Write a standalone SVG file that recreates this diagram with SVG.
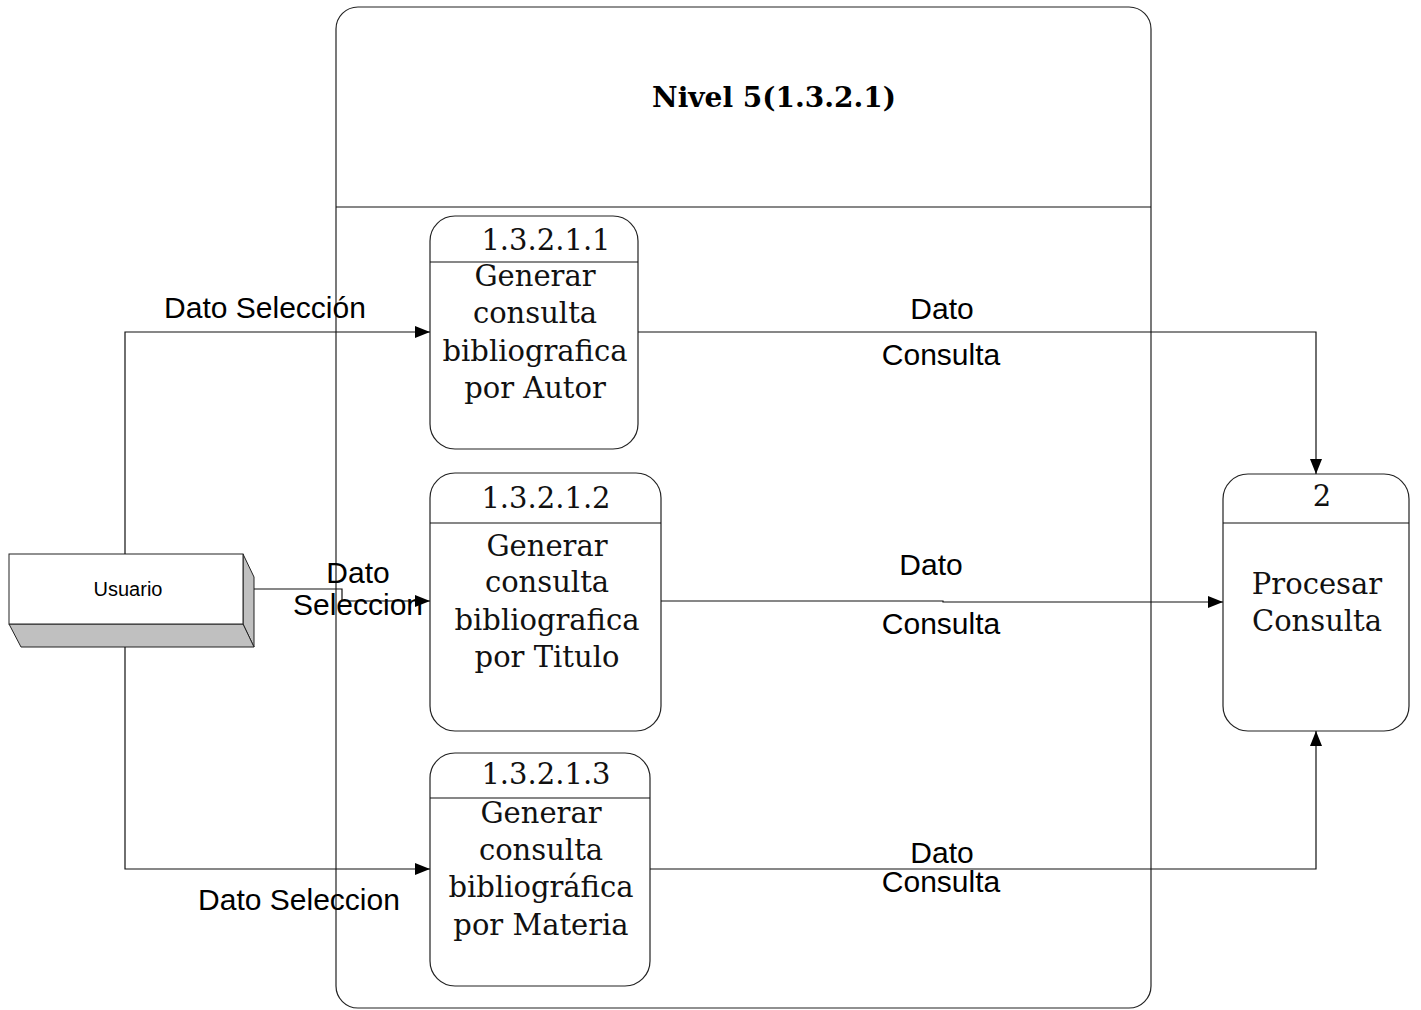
<svg xmlns="http://www.w3.org/2000/svg" width="1421" height="1010" viewBox="0 0 1421 1010">
<defs>
<style>
.box{fill:#fff;stroke:#222;stroke-width:1.2}
.line{fill:none;stroke:#111;stroke-width:1.2}
.ser{font-family:"DejaVu Serif","Liberation Serif",serif;font-size:29px;fill:#111;text-anchor:middle}
.lbl{font-family:"Liberation Sans",Arial,sans-serif;font-size:30px;fill:#000;text-anchor:middle}
.title{font-family:"DejaVu Serif","Liberation Serif",serif;font-size:28px;font-weight:bold;fill:#000;text-anchor:middle}
</style>
<marker id="arr" viewBox="0 0 15 12" refX="15" refY="6" markerWidth="15" markerHeight="12" markerUnits="userSpaceOnUse" orient="auto">
<path d="M0,0 L15,6 L0,12 Z" fill="#000"/>
</marker>
</defs>
<rect width="1421" height="1010" fill="#fff"/>

<g id="container">
<rect x="336" y="7" width="815" height="1001" rx="22" ry="22" class="box" stroke="#444"/>
<line x1="336" y1="207" x2="1151" y2="207" class="line"/>
<text x="774" y="107" class="title">Nivel 5(1.3.2.1)</text>
</g>

<g id="usuario">
<polygon points="243,554 254,577 254,647 243,624" fill="#c0c0c0" stroke="#222" stroke-width="1"/>
<polygon points="9,624 243,624 254,647 21,647" fill="#c0c0c0" stroke="#222" stroke-width="1"/>
<rect x="9" y="554" width="234" height="70" fill="#fff" stroke="#222" stroke-width="1"/>
<text x="128" y="596" font-family="Liberation Sans,Arial,sans-serif" font-size="20" text-anchor="middle" fill="#000">Usuario</text>
</g>

<g id="p1">
<rect x="430" y="216" width="208" height="233" rx="25" ry="25" class="box"/>
<line x1="430" y1="262" x2="638" y2="262" class="line"/>
<text x="546" y="250" class="ser">1.3.2.1.1</text>
<text x="535" y="286" class="ser">Generar</text>
<text x="535" y="323" class="ser">consulta</text>
<text x="535" y="361" class="ser">bibliografica</text>
<text x="535" y="398" class="ser">por Autor</text>
</g>

<g id="p2">
<rect x="430" y="473" width="231" height="258" rx="25" ry="25" class="box"/>
<line x1="430" y1="523" x2="661" y2="523" class="line"/>
<text x="546" y="508" class="ser">1.3.2.1.2</text>
<text x="547" y="556" class="ser">Generar</text>
<text x="547" y="592" class="ser">consulta</text>
<text x="547" y="630" class="ser">bibliografica</text>
<text x="547" y="667" class="ser">por Titulo</text>
</g>

<g id="p3">
<rect x="430" y="753" width="220" height="233" rx="25" ry="25" class="box"/>
<line x1="430" y1="798" x2="650" y2="798" class="line"/>
<text x="546" y="784" class="ser">1.3.2.1.3</text>
<text x="541" y="823" class="ser">Generar</text>
<text x="541" y="860" class="ser">consulta</text>
<text x="541" y="897" class="ser">bibliográfica</text>
<text x="541" y="935" class="ser">por Materia</text>
</g>

<g id="p_2">
<rect x="1223" y="474" width="186" height="257" rx="25" ry="25" class="box"/>
<line x1="1223" y1="523" x2="1409" y2="523" class="line"/>
<text x="1322" y="506" class="ser">2</text>
<text x="1317" y="594" class="ser">Procesar</text>
<text x="1317" y="631" class="ser">Consulta</text>
</g>

<g id="connectors">
<path d="M125,554 V332 H430" class="line" marker-end="url(#arr)"/>
<path d="M254,589 H342 V601 H430" class="line" marker-end="url(#arr)"/>
<path d="M125,647 V869 H430" class="line" marker-end="url(#arr)"/>
<path d="M638,332 H1316 V474" class="line" marker-end="url(#arr)"/>
<path d="M661,601 H943 V602 H1223" class="line" marker-end="url(#arr)"/>
<path d="M650,869 H1316 V731" class="line" marker-end="url(#arr)"/>
<text x="265" y="318" class="lbl">Dato Selección</text>
<text x="358" y="583" class="lbl">Dato</text>
<text x="358" y="615" class="lbl">Seleccion</text>
<text x="299" y="910" class="lbl">Dato Seleccion</text>
<text x="942" y="319" class="lbl">Dato</text>
<text x="941" y="365" class="lbl">Consulta</text>
<text x="931" y="575" class="lbl">Dato</text>
<text x="941" y="634" class="lbl">Consulta</text>
<text x="942" y="863" class="lbl">Dato</text>
<text x="941" y="892" class="lbl">Consulta</text>
</g>
</svg>
